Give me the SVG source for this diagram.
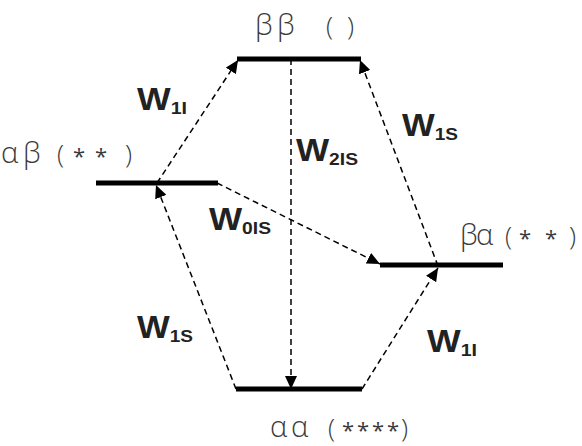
<svg xmlns="http://www.w3.org/2000/svg" width="582" height="446" viewBox="0 0 582 446">
<defs>
<marker id="arr" markerUnits="userSpaceOnUse" markerWidth="14" markerHeight="12" refX="13" refY="6" orient="auto">
<path d="M0,0 L13,6 L0,12 Z" fill="#000"/>
</marker>
<style>
.lvl{stroke:#000;stroke-width:5;fill:none}
.dash{stroke:#000;stroke-width:1.5;stroke-dasharray:6 4;fill:none;marker-end:url(#arr)}
.st{font-family:"Open Sans","DejaVu Sans",sans-serif;font-size:29px;fill:#3a3a3a;font-weight:300}
.pa{font-size:26px}
.sr{font-size:22px;font-weight:400}
.w{font-family:"Liberation Sans",Arial,sans-serif;font-weight:bold;font-size:31px;fill:#222}
.sub{font-size:17px}
</style>
</defs>
<rect width="582" height="446" fill="#fff"/>
<g id="connectors">
<line class="dash" x1="157" y1="183" x2="238" y2="60"/>
<line class="dash" x1="236" y1="389" x2="156" y2="185"/>
<line class="dash" x1="438" y1="266" x2="360" y2="60"/>
<line class="dash" x1="362" y1="389" x2="438" y2="268"/>
<line class="dash" x1="291" y1="59" x2="291" y2="389"/>
<line class="dash" x1="217" y1="183" x2="380" y2="264"/>
</g>
<g id="bb"><line class="lvl" x1="237" y1="59" x2="361" y2="59"/><text class="st" y="35"><tspan x="255 277">ββ</tspan><tspan class="pa" x="326 347">()</tspan></text></g>
<g id="ab"><line class="lvl" x1="96" y1="183" x2="218" y2="183"/><text class="st" y="163"><tspan x="1 23">αβ</tspan><tspan class="pa" x="57">(</tspan><tspan class="sr" x="73 95" dy="1">**</tspan><tspan class="pa" x="125" dy="-1">)</tspan></text></g>
<g id="ba"><line class="lvl" x1="380" y1="265" x2="503" y2="265"/><text class="st" y="245"><tspan x="460 476">βα</tspan><tspan class="pa" x="505">(</tspan><tspan class="sr" x="519 545" dy="1">**</tspan><tspan class="pa" x="569" dy="-1">)</tspan></text></g>
<g id="aa"><line class="lvl" x1="236" y1="389" x2="362" y2="389"/><text class="st" y="437"><tspan x="270 291">αα</tspan><tspan class="pa" x="328">(</tspan><tspan class="sr" x="342 357 372 387" dy="1">****</tspan><tspan class="pa" x="401" dy="-1">)</tspan></text></g>
<g id="labels">
<text class="w" x="137" y="110" textLength="50" lengthAdjust="spacingAndGlyphs">W<tspan class="sub" dy="4">1I</tspan></text>
<text class="w" x="296" y="161" textLength="62" lengthAdjust="spacingAndGlyphs">W<tspan class="sub" dy="4">2IS</tspan></text>
<text class="w" x="402" y="136" textLength="56" lengthAdjust="spacingAndGlyphs">W<tspan class="sub" dy="4">1S</tspan></text>
<text class="w" x="209" y="230" textLength="62" lengthAdjust="spacingAndGlyphs">W<tspan class="sub" dy="4">0IS</tspan></text>
<text class="w" x="137" y="338" textLength="56" lengthAdjust="spacingAndGlyphs">W<tspan class="sub" dy="4">1S</tspan></text>
<text class="w" x="427" y="352" textLength="50" lengthAdjust="spacingAndGlyphs">W<tspan class="sub" dy="4">1I</tspan></text>
</g>
</svg>
